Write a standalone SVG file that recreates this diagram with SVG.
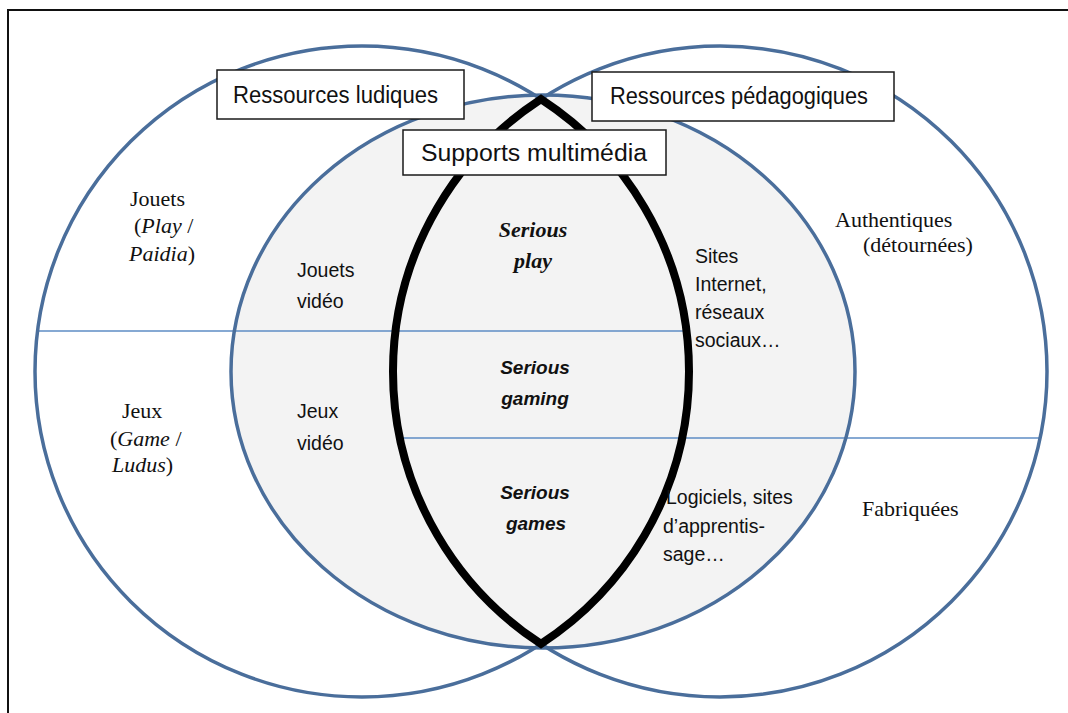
<svg xmlns="http://www.w3.org/2000/svg" width="1068" height="713" viewBox="0 0 1068 713">
<style>
.ring{fill:none;stroke:#4a6e9b;stroke-width:3.5}
.hl{stroke:#5e8cc4;stroke-width:1.5}
.box{fill:#fff;stroke:#1a1a1a;stroke-width:1.5}
.bl{font-family:"Liberation Sans",Arial,sans-serif;font-size:23px;fill:#111}
.ss{font-family:"Liberation Sans",Arial,sans-serif;font-size:19.5px;fill:#111}
.sb{font-family:"Liberation Sans",Arial,sans-serif;font-size:19px;font-weight:bold;font-style:italic;fill:#111;text-anchor:middle}
.tm{font-family:"Liberation Serif","Times New Roman",serif;font-size:22px;fill:#111}
.tb{font-family:"Liberation Serif","Times New Roman",serif;font-size:22px;font-weight:bold;font-style:italic;fill:#111;text-anchor:middle}
</style>
<rect x="0" y="0" width="1068" height="713" fill="#fff"/>
<rect x="8" y="10" width="1100" height="800" fill="none" stroke="#111" stroke-width="2"/>
<g id="inner">
<ellipse cx="543" cy="371.5" rx="312" ry="276.5" fill="#f3f3f3"/>
</g>
<g id="connectors">
<line class="hl" x1="36" y1="331" x2="687" y2="331"/>
<line class="hl" x1="396" y1="438" x2="1041" y2="438"/>
</g>
<g id="ludiques-circle">
<ellipse class="ring" cx="362" cy="371.5" rx="327" ry="325.5"/>
</g>
<g id="pedagogiques-circle">
<ellipse class="ring" cx="720" cy="371.5" rx="327" ry="325.5"/>
</g>
<g id="multimedia-ellipse">
<ellipse class="ring" cx="543" cy="371.5" rx="312" ry="276.5"/>
</g>
<g id="lens">
<path d="M541,99.1 A327,325.5 0 0,0 541,643.9 A327,325.5 0 0,0 541,99.1 Z" fill="none" stroke="#000" stroke-width="8" stroke-linejoin="miter" stroke-miterlimit="10"/>
</g>
<g id="box-ludiques">
<rect class="box" x="217" y="70" width="247" height="49"/>
<text class="bl" x="233" y="103" textLength="205" lengthAdjust="spacingAndGlyphs">Ressources ludiques</text>
</g>
<g id="box-pedagogiques">
<rect class="box" x="592" y="72" width="302" height="49"/>
<text class="bl" x="610" y="104" textLength="258" lengthAdjust="spacingAndGlyphs">Ressources pédagogiques</text>
</g>
<g id="box-multimedia">
<rect class="box" x="403" y="130" width="263" height="45"/>
<text class="bl" x="421" y="161" textLength="226" lengthAdjust="spacingAndGlyphs">Supports multimédia</text>
</g>
<g id="jouets">
<text class="tm" x="130" y="206">Jouets</text>
<text class="tm" x="134" y="233">(<tspan font-style="italic">Play</tspan> /</text>
<text class="tm" x="129" y="261"><tspan font-style="italic">Paidia</tspan>)</text>
</g>
<g id="jeux">
<text class="tm" x="122" y="418">Jeux</text>
<text class="tm" x="110" y="446">(<tspan font-style="italic">Game</tspan> /</text>
<text class="tm" x="112" y="472"><tspan font-style="italic">Ludus</tspan>)</text>
</g>
<g id="jouets-video">
<text class="ss" x="297" y="277">Jouets</text>
<text class="ss" x="297" y="308">vidéo</text>
</g>
<g id="jeux-video">
<text class="ss" x="297" y="418">Jeux</text>
<text class="ss" x="297" y="450">vidéo</text>
</g>
<g id="serious-play">
<text class="tb" x="533" y="237">Serious</text>
<text class="tb" x="533" y="268">play</text>
</g>
<g id="serious-gaming">
<text class="sb" x="535" y="374">Serious</text>
<text class="sb" x="535" y="405">gaming</text>
</g>
<g id="serious-games">
<text class="sb" x="535" y="499">Serious</text>
<text class="sb" x="536" y="530">games</text>
</g>
<g id="sites">
<text class="ss" x="695" y="263">Sites</text>
<text class="ss" x="695" y="291">Internet,</text>
<text class="ss" x="695" y="319">réseaux</text>
<text class="ss" x="695" y="347">sociaux…</text>
</g>
<g id="logiciels">
<text class="ss" x="666" y="504">Logiciels, sites</text>
<text class="ss" x="663" y="533">d’apprentis-</text>
<text class="ss" x="663" y="561">sage…</text>
</g>
<g id="authentiques">
<text class="tm" x="835" y="227">Authentiques</text>
<text class="tm" x="863" y="252">(détournées)</text>
</g>
<g id="fabriquees">
<text class="tm" x="862" y="516">Fabriquées</text>
</g>
</svg>
